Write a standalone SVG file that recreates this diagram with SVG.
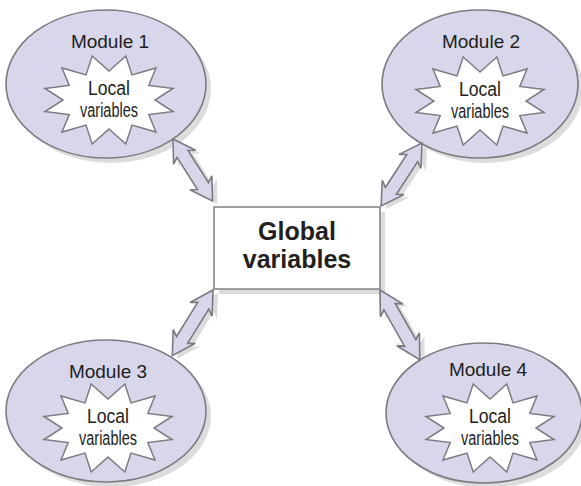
<svg xmlns="http://www.w3.org/2000/svg" xmlns:xlink="http://www.w3.org/1999/xlink" width="581" height="486" viewBox="0 0 581 486">
<style>
.ell{fill:#d7d6eb;stroke:#7b7b7f;stroke-width:1.6}
.shd{fill:#dcdcdc;stroke:none}
.star{fill:#ffffff;stroke:#7b7b7f;stroke-width:1.5;stroke-linejoin:miter}
.arr{fill:#d7d6eb;stroke:#7b7b7f;stroke-width:1.6;stroke-linejoin:miter}
.mod{font-family:"Liberation Sans",Arial,sans-serif;font-size:19px;fill:#231f20;text-anchor:middle}
.loc{font-family:"Liberation Sans Narrow","Liberation Sans",Arial,sans-serif;font-size:20px;fill:#231f20;text-anchor:middle}
.glb{font-family:"Liberation Sans",Arial,sans-serif;font-size:25px;font-weight:bold;fill:#231f20;text-anchor:middle}
</style>
<defs>
<path id="star" d="M-16.8,-44 L0,-29 L16.8,-44 L23,-25.1 L47,-32 L39.8,-14.5 L64,-11.5 L46,0 L64,11.5 L39.8,14.5 L47,32 L23,25.1 L16.8,44 L0,29 L-16.8,44 L-23,25.1 L-47,32 L-39.8,14.5 L-64,11.5 L-46,0 L-64,-11.5 L-39.8,-14.5 L-47,-32 L-23,-25.1 Z"/>
<path id="arrow" d="M0,0 L22,-13 L18,-6.5 L57,-6.5 L53,-13 L75,0 L53,13 L57,6.5 L18,6.5 L22,13 Z"/>
</defs>

<g id="shadows">
<ellipse class="shd" cx="111" cy="89" rx="100" ry="74"/>
<ellipse class="shd" cx="485" cy="89" rx="98" ry="74"/>
<ellipse class="shd" cx="111" cy="416" rx="100" ry="71"/>
<ellipse class="shd" cx="489" cy="418" rx="98" ry="70"/>
<rect class="shd" x="219" y="212" width="166" height="82"/>
<use xlink:href="#arrow" class="shd" transform="translate(178,142) rotate(57.5) scale(0.98,1)"/>
<use xlink:href="#arrow" class="shd" transform="translate(427,146) rotate(123)"/>
<use xlink:href="#arrow" class="shd" transform="translate(218,293) rotate(121.8) scale(1.03,1)"/>
<use xlink:href="#arrow" class="shd" transform="translate(385,293) rotate(60.3) scale(1.07,1)"/>
</g>

<g id="module1">
<ellipse class="ell" cx="106" cy="84" rx="100" ry="74"/>
<text class="mod" x="110" y="48">Module 1</text>
<use xlink:href="#star" class="star" transform="translate(109,100)"/>
<text class="loc" x="109" y="95" textLength="42" lengthAdjust="spacingAndGlyphs">Local</text>
<text class="loc" x="109" y="117" textLength="58" lengthAdjust="spacingAndGlyphs">variables</text>
</g>

<g id="module2">
<ellipse class="ell" cx="480" cy="84" rx="98" ry="74"/>
<text class="mod" x="481" y="48">Module 2</text>
<use xlink:href="#star" class="star" transform="translate(480,101)"/>
<text class="loc" x="480" y="96" textLength="42" lengthAdjust="spacingAndGlyphs">Local</text>
<text class="loc" x="480" y="118" textLength="58" lengthAdjust="spacingAndGlyphs">variables</text>
</g>

<g id="module3">
<ellipse class="ell" cx="106" cy="411" rx="100" ry="71"/>
<text class="mod" x="108" y="378">Module 3</text>
<use xlink:href="#star" class="star" transform="translate(108,428)"/>
<text class="loc" x="108" y="423" textLength="42" lengthAdjust="spacingAndGlyphs">Local</text>
<text class="loc" x="108" y="445" textLength="58" lengthAdjust="spacingAndGlyphs">variables</text>
</g>

<g id="module4">
<ellipse class="ell" cx="484" cy="413" rx="98" ry="70"/>
<text class="mod" x="488" y="376">Module 4</text>
<use xlink:href="#star" class="star" transform="translate(490,428)"/>
<text class="loc" x="490" y="423" textLength="42" lengthAdjust="spacingAndGlyphs">Local</text>
<text class="loc" x="490" y="445" textLength="58" lengthAdjust="spacingAndGlyphs">variables</text>
</g>

<g id="global">
<rect x="214" y="207" width="166" height="82" fill="#ffffff" stroke="#88888c" stroke-width="1.6"/>
<text class="glb" x="297" y="240">Global</text>
<text class="glb" x="297" y="268">variables</text>
</g>

<g id="connectors">
<use xlink:href="#arrow" class="arr" transform="translate(173,139) rotate(57.5) scale(0.98,1)"/>
<use xlink:href="#arrow" class="arr" transform="translate(422,143) rotate(123)"/>
<use xlink:href="#arrow" class="arr" transform="translate(213,290) rotate(121.8) scale(1.03,1)"/>
<use xlink:href="#arrow" class="arr" transform="translate(380,290) rotate(60.3) scale(1.07,1)"/>
</g>
</svg>
